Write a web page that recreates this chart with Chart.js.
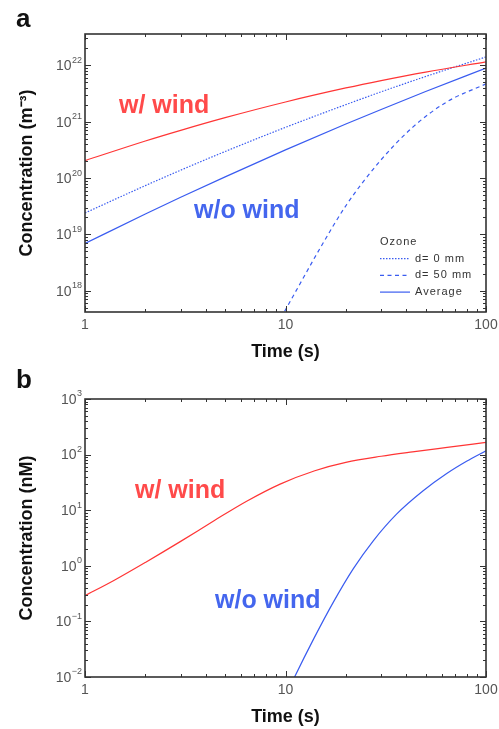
<!DOCTYPE html>
<html>
<head>
<meta charset="utf-8">
<script src="https://cdn.jsdelivr.net/npm/chart.js@4.4.0/dist/chart.umd.min.js"></script>
<style>
  body { margin: 0; background: #fff; width: 499px; height: 729px; overflow: hidden; position: relative; font-family: "Liberation Sans", Arial, sans-serif; }
  canvas { position: absolute; left: 0; }
  .tag { position: absolute; font-weight: bold; font-size: 26px; line-height: 26px; color: #111; }
  .nota { position: absolute; font-weight: bold; font-size: 25px; line-height: 25px; white-space: nowrap; }
  .vermelho { color: #ff4a4a; }
  .azul { color: #4466ee; }
</style>
</head>
<body>
<canvas id="graficoA" width="499" height="364" style="top:0"></canvas>
<canvas id="graficoB" width="499" height="364" style="top:365px"></canvas>
<div class="tag" style="left:16px;top:5px">a</div>
<div class="tag" style="left:16px;top:366px">b</div>
<div class="nota vermelho" style="left:119px;top:92px">w/ wind</div>
<div class="nota azul" style="left:194px;top:197px">w/o wind</div>
<div class="nota vermelho" style="left:135px;top:477px">w/ wind</div>
<div class="nota azul" style="left:215px;top:587px">w/o wind</div>
<script>
// painel a - ozonio (m^-3)
const temposA = [1, 2, 3, 5, 10, 20, 30, 50, 100];
const comVentoA = [2.04e20, 4.55e20, 7.03e20, 1.18e21, 2.24e21, 3.97e21, 5.37e21, 7.60e21, 1.15e22];
const ozonio0mm = [2.4e19, 7.35e19, 1.38e20, 2.96e20, 7.94e20, 2.01e21, 3.39e21, 6.34e21, 1.41e22];
const ozonioMedia = [6.9e18, 2.30e19, 4.55e19, 1.05e20, 3.16e20, 9.08e20, 1.65e21, 3.44e21, 8.91e21];
const tempos50mm = [9.5, 10, 11.8, 14.9, 20.2, 29.6, 43.3, 63.7, 100];
const ozonio50mm = [3.3e17, 4.6e17, 1.32e18, 5.75e18, 3.4e19, 2.0e20, 8.1e20, 2.24e21, 4.7e21];

// painel b - (nM)
const temposComVentoB = [1, 1.4, 2, 3, 4.4, 6.4, 9.4, 14, 20, 30, 43, 64, 100];
const comVentoB = [0.29, 0.55, 1.15, 2.75, 6.46, 14.5, 29.5, 51.3, 72.4, 93.3, 112, 135, 166];
const temposSemVentoB = [10.9, 11.1, 13.8, 17.3, 21.8, 27.4, 35.8, 48.6, 63.7, 80, 100];
const semVentoB = [0.0087, 0.01, 0.048, 0.22, 0.89, 2.82, 8.5, 22.4, 45.7, 75.9, 117];

const rotulosX = ['1', '10', '100'];
const expoentesA = [18, 19, 20, 21, 22];
const expoentesB = [-2, -1, 0, 1, 2, 3];
const legendaTitulo = 'Ozone';

const VERMELHO = '#ff3535';
const AZUL = '#3a5cf0';
const FONTE = '"Liberation Sans", Arial, sans-serif';

function pontos(xs, ys) {
  return xs.map((x, i) => ({ x, y: ys[i] }));
}

function tipoTick(v) {
  const l = Math.log10(v);
  if (Math.abs(l - Math.round(l)) < 1e-6) return 'maior';
  const s = v / Math.pow(10, Math.floor(l + 1e-9));
  if (Math.abs(s - Math.round(s)) < 1e-6) return 'menor';
  return null;
}

// moldura, ticks para dentro nos quatro lados e rotulos 10^n do eixo y
const molduraPlugin = {
  id: 'moldura',
  afterDatasetsDraw(chart, args, opts) {
    const { ctx, chartArea: a, scales } = chart;
    ctx.save();
    ctx.strokeStyle = '#333';
    ctx.lineWidth = 1;
    const linha = (x1, y1, x2, y2) => { ctx.beginPath(); ctx.moveTo(x1, y1); ctx.lineTo(x2, y2); ctx.stroke(); };
    scales.x.ticks.forEach(t => {
      const tipo = tipoTick(t.value);
      if (!tipo) return;
      const len = tipo === 'maior' ? 6 : 3;
      const px = Math.round(scales.x.getPixelForValue(t.value)) + 0.5;
      linha(px, a.bottom, px, a.bottom - len);
      linha(px, a.top, px, a.top + len);
    });
    scales.y.ticks.forEach(t => {
      const tipo = tipoTick(t.value);
      if (!tipo) return;
      const len = tipo === 'maior' ? 6 : 3;
      const py = Math.round(scales.y.getPixelForValue(t.value)) + 0.5;
      linha(a.left, py, a.left + len, py);
      linha(a.right, py, a.right - len, py);
    });
    ctx.lineWidth = 1.6;
    ctx.strokeRect(a.left, a.top, a.width, a.height);

    ctx.fillStyle = '#555';
    ctx.textBaseline = 'middle';
    ctx.textAlign = 'right';
    (opts.expoentes || []).forEach(e => {
      const py = scales.y.getPixelForValue(Math.pow(10, e));
      ctx.font = '9px ' + FONTE;
      const sup = String(e).replace('-', '\u2212');
      const w = ctx.measureText(sup).width;
      const xr = a.left - 3;
      ctx.fillText(sup, xr, py - 5);
      ctx.font = '14px ' + FONTE;
      ctx.fillText('10', xr - w - 0.5, py + 1);
    });
    ctx.restore();
  }
};

const legendaPlugin = {
  id: 'legendaOzonio',
  afterDraw(chart, args, opts) {
    if (!opts || !opts.mostrar) return;
    const { ctx, chartArea: a } = chart;
    const x0 = a.right - 106;
    let y = a.top + 208;
    ctx.save();
    ctx.font = '11px ' + FONTE;
    ctx.letterSpacing = '1px';
    ctx.fillStyle = '#333';
    ctx.textBaseline = 'middle';
    ctx.fillText(opts.titulo, x0, y);
    chart.data.datasets.filter(d => d.naLegenda).forEach(d => {
      y += 16.7;
      ctx.strokeStyle = d.borderColor;
      ctx.lineWidth = d.borderWidth;
      ctx.setLineDash(d.borderDash || []);
      ctx.beginPath();
      ctx.moveTo(x0, y);
      ctx.lineTo(x0 + 30, y);
      ctx.stroke();
      ctx.fillText(d.label, x0 + 35, y);
    });
    ctx.restore();
  }
};

function opcoes(tituloY, minY, maxY, expoentes, legenda) {
  return {
    responsive: false,
    animation: false,
    devicePixelRatio: 1,
    layout: { padding: { left: 0, top: 34, right: 13, bottom: 0 } },
    plugins: {
      legend: { display: false },
      tooltip: { enabled: false },
      moldura: { expoentes },
      legendaOzonio: legenda
    },
    scales: {
      x: {
        type: 'logarithmic',
        min: 1,
        max: 100,
        grid: { display: false, drawTicks: false },
        border: { display: false },
        afterFit: s => { s.height = 52; s.paddingLeft = 0; s.paddingRight = 0; },
        ticks: {
          autoSkip: false,
          maxRotation: 0,
          padding: 5,
          color: '#555',
          font: { size: 14, family: FONTE },
          callback: v => tipoTick(v) === 'maior' ? rotulosX[Math.round(Math.log10(v))] : ''
        },
        title: {
          display: true,
          text: 'Time (s)',
          color: '#111',
          padding: { top: 0, bottom: 1 },
          font: { size: 18, weight: 'bold', family: FONTE }
        }
      },
      y: {
        type: 'logarithmic',
        min: minY,
        max: maxY,
        grid: { display: false, drawTicks: false },
        border: { display: false },
        afterFit: s => { s.width = 85; s.paddingTop = 0; s.paddingBottom = 0; },
        ticks: { display: false },
        title: {
          display: true,
          text: tituloY,
          color: '#111',
          padding: { top: 16, bottom: 0 },
          font: { size: 18, weight: 'bold', family: FONTE }
        }
      }
    }
  };
}

function serie(label, data, cor, tracejado, naLegenda) {
  return {
    label,
    data,
    borderColor: cor,
    borderWidth: 1.2,
    borderDash: tracejado,
    pointRadius: 0,
    fill: false,
    cubicInterpolationMode: 'monotone',
    naLegenda
  };
}

new Chart(document.getElementById('graficoA'), {
  type: 'line',
  data: {
    datasets: [
      serie('w/ wind', pontos(temposA, comVentoA), VERMELHO, [], false),
      serie('d= 0 mm', pontos(temposA, ozonio0mm), AZUL, [1.5, 1.5], true),
      serie('d= 50 mm', pontos(tempos50mm, ozonio50mm), AZUL, [4, 3.5], true),
      serie('Average', pontos(temposA, ozonioMedia), AZUL, [], true)
    ]
  },
  options: opcoes('Concentration (m\u207B\u00B3)', 4.2e17, 3.6e22, expoentesA, { mostrar: true, titulo: legendaTitulo }),
  plugins: [molduraPlugin, legendaPlugin]
});

new Chart(document.getElementById('graficoB'), {
  type: 'line',
  data: {
    datasets: [
      serie('w/ wind', pontos(temposComVentoB, comVentoB), VERMELHO, [], false),
      serie('w/o wind', pontos(temposSemVentoB, semVentoB), AZUL, [], false)
    ]
  },
  options: opcoes('Concentration (nM)', 0.01, 1000, expoentesB, { mostrar: false }),
  plugins: [molduraPlugin, legendaPlugin]
});
</script>
</body>
</html>
